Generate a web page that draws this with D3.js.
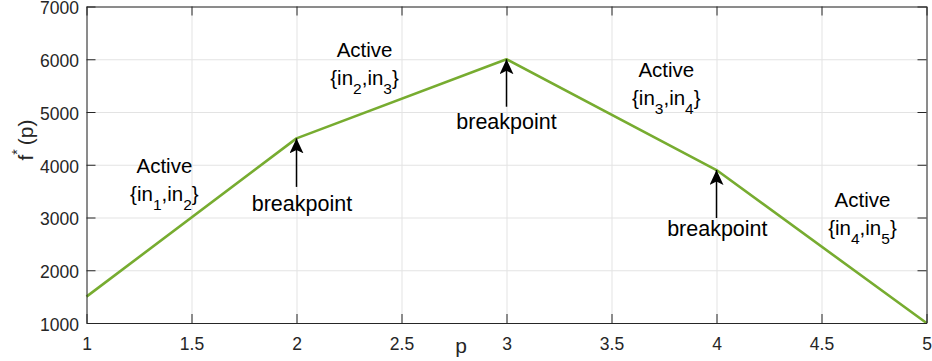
<!DOCTYPE html>
<html>
<head>
<meta charset="utf-8">
<script src="https://cdn.jsdelivr.net/npm/d3@7"></script>
<style>
  body { margin: 0; background: #fff; }
  svg { display: block; font-family: "Liberation Sans", Arial, Helvetica, sans-serif; }
</style>
</head>
<body>
<div class="viz"></div>
<script>
// chart values
const pValues = [1, 2, 3, 4, 5];
const fValues = [1500, 4500, 6000, 3900, 1000];
const xTicks = [1, 1.5, 2, 2.5, 3, 3.5, 4, 4.5, 5];
const xTickLabels = ['1', '1.5', '2', '2.5', '3', '3.5', '4', '4.5', '5'];
const yTicks = [1000, 2000, 3000, 4000, 5000, 6000, 7000];
const yTickLabels = ['1000', '2000', '3000', '4000', '5000', '6000', '7000'];

// annotations
const activeSets = [['1', '2'], ['2', '3'], ['3', '4'], ['4', '5']];
const activeAt = [[1.371, 3844], [2.324, 6037], [3.761, 5669], [4.695, 3205]];
const breakpointP = [2, 3, 4];
const breakpointF = [4500, 6000, 3900];
const arrowTailF = [3580, 5100, 2990];
const breakLabelAt = [[2.026, 3123], [3.0, 4672], [4.004, 2649]];

const W = 932, H = 361;
const margin = {left: 86.5, right: 5.5, top: 6.5, bottom: 38};
const width = W - margin.left - margin.right;
const height = H - margin.top - margin.bottom;

const axisColor = '#262626';
const gridColor = '#e3e3e3';
const tickLen = 9;

const x = d3.scaleLinear().domain([1, 5]).range([0, width]);
const y = d3.scaleLinear().domain([1000, 7000]).range([height, 0]);

const svg = d3.select('.viz').append('svg')
    .attr('width', W)
    .attr('height', H);

svg.append('defs').append('marker')
    .attr('id', 'head')
    .attr('viewBox', '0 0 15 14')
    .attr('refX', 15)
    .attr('refY', 7)
    .attr('markerWidth', 15)
    .attr('markerHeight', 14)
    .attr('markerUnits', 'userSpaceOnUse')
    .attr('orient', 'auto')
  .append('path')
    .attr('d', 'M0,0 L15,7 L0,14 L3.5,7 Z')
    .attr('fill', '#000');

const g = svg.append('g')
    .attr('transform', `translate(${margin.left},${margin.top})`);

// grid
g.append('g')
    .attr('transform', `translate(0,${height})`)
    .call(d3.axisBottom(x).tickValues(xTicks).tickSize(-height).tickFormat(''))
    .call(s => s.select('.domain').remove())
    .call(s => s.selectAll('line').attr('stroke', gridColor));

g.append('g')
    .call(d3.axisLeft(y).tickValues(yTicks).tickSize(-width).tickFormat(''))
    .call(s => s.select('.domain').remove())
    .call(s => s.selectAll('line').attr('stroke', gridColor));

// the line
const line = d3.line()
    .x((d, i) => x(pValues[i]))
    .y(d => y(d));

g.append('path')
    .datum(fValues)
    .attr('fill', 'none')
    .attr('stroke', '#77AC30')
    .attr('stroke-width', 2.6)
    .attr('stroke-linejoin', 'round')
    .attr('d', line);

// axes (box with inward ticks)
function styleAxis(s) {
  s.select('.domain').attr('stroke', axisColor).attr('stroke-width', 1);
  s.selectAll('line').attr('stroke', axisColor);
  s.selectAll('text').attr('fill', axisColor).style('font-size', '17.5px');
}

g.append('g')
    .attr('transform', `translate(0,${height})`)
    .call(d3.axisBottom(x).tickValues(xTicks)
      .tickFormat((d, i) => xTickLabels[i])
      .tickSizeInner(-tickLen).tickSizeOuter(0).tickPadding(15))
    .call(styleAxis);

g.append('g')
    .call(d3.axisTop(x).tickValues(xTicks).tickFormat('')
      .tickSizeInner(-tickLen).tickSizeOuter(0))
    .call(styleAxis);

g.append('g')
    .call(d3.axisLeft(y).tickValues(yTicks)
      .tickFormat((d, i) => yTickLabels[i])
      .tickSizeInner(-tickLen).tickSizeOuter(0).tickPadding(7.5))
    .call(styleAxis)
    .call(s => s.selectAll('text').attr('dy', '0.42em'));

g.append('g')
    .attr('transform', `translate(${width},0)`)
    .call(d3.axisRight(y).tickValues(yTicks).tickFormat('')
      .tickSizeInner(-tickLen).tickSizeOuter(0))
    .call(styleAxis);

// axis labels
svg.append('text')
    .attr('x', 461)
    .attr('y', 353)
    .attr('text-anchor', 'middle')
    .attr('fill', axisColor)
    .style('font-size', '21px')
    .text('p');

const yl = svg.append('text')
    .attr('transform', 'translate(33,140) rotate(-90)')
    .attr('text-anchor', 'middle')
    .attr('fill', axisColor)
    .style('font-size', '21px');
yl.append('tspan').text('f');
yl.append('tspan').attr('dy', -11).style('font-size', '14px').text('*');
yl.append('tspan').attr('dy', 11).attr('dx', 4).text('(p)');

// "Active {in_a,in_b}" labels
activeSets.forEach((pair, i) => {
  const px = x(activeAt[i][0]);
  const py = y(activeAt[i][1]);
  const t = g.append('g').style('font-size', '20.5px').attr('fill', '#000');
  t.append('text')
      .attr('x', px).attr('y', py)
      .attr('text-anchor', 'middle')
      .text('Active');
  const s = t.append('text')
      .attr('x', px).attr('y', py + 28)
      .attr('text-anchor', 'middle');
  s.append('tspan').text('{in');
  s.append('tspan').attr('dy', 9).style('font-size', '15.5px').text(pair[0]);
  s.append('tspan').attr('dy', -9).text(',in');
  s.append('tspan').attr('dy', 9).style('font-size', '15.5px').text(pair[1]);
  s.append('tspan').attr('dy', -9).text('}');
});

// breakpoint arrows and labels
breakpointP.forEach((p, i) => {
  g.append('line')
      .attr('x1', x(p)).attr('y1', y(arrowTailF[i]))
      .attr('x2', x(p)).attr('y2', y(breakpointF[i]))
      .attr('stroke', '#000')
      .attr('stroke-width', 1.5)
      .attr('marker-end', 'url(#head)');
  g.append('text')
      .attr('x', x(breakLabelAt[i][0]))
      .attr('y', y(breakLabelAt[i][1]))
      .attr('text-anchor', 'middle')
      .style('font-size', '21.5px')
      .attr('fill', '#000')
      .text('breakpoint');
});
</script>
</body>
</html>
